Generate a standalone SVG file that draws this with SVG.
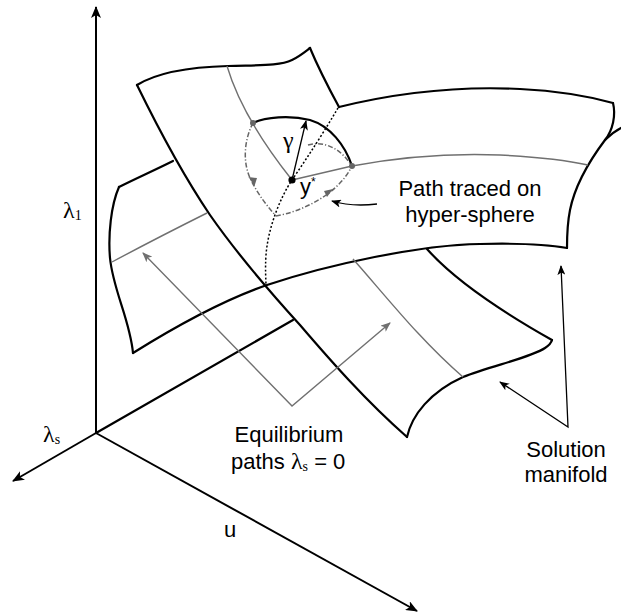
<svg xmlns="http://www.w3.org/2000/svg" width="621" height="614" viewBox="0 0 621 614">
<style>
.edge{fill:none;stroke:#000;stroke-width:2.2;stroke-linejoin:round;stroke-linecap:round}
.axis{fill:none;stroke:#000;stroke-width:2}
.grid{fill:none;stroke:#707070;stroke-width:1.4}
.garrow{fill:none;stroke:#707070;stroke-width:1.4}
.barrow{fill:none;stroke:#000;stroke-width:1.3}
.dotted{fill:none;stroke:#000;stroke-width:1.5;stroke-dasharray:2,2}
.dashdot{fill:none;stroke:#666;stroke-width:1.5;stroke-dasharray:5,2,1.2,2}
.sans{font-family:"Liberation Sans",Arial,sans-serif;font-size:22px;fill:#000}
.serif{font-family:"Liberation Serif","Times New Roman",serif;fill:#000}
</style>
<defs>
<marker id="ax" viewBox="0 0 12 10" refX="11" refY="5" markerWidth="12" markerHeight="10" markerUnits="userSpaceOnUse" orient="auto">
<path d="M0,0 L12,5 L0,10 L3,5 z" fill="#000"/>
</marker>
<marker id="ga" viewBox="0 0 10 8" refX="9" refY="4" markerWidth="10" markerHeight="8" markerUnits="userSpaceOnUse" orient="auto-start-reverse">
<path d="M0,0 L10,4 L0,8 L2.5,4 z" fill="#707070"/>
</marker>
<marker id="ba" viewBox="0 0 10 8" refX="9" refY="4" markerWidth="10" markerHeight="8" markerUnits="userSpaceOnUse" orient="auto-start-reverse">
<path d="M0,0 L10,4 L0,8 L2.5,4 z" fill="#000"/>
</marker>
</defs>
<rect width="621" height="614" fill="#fff"/>

<g id="axes">
<line class="axis" x1="96" y1="433" x2="96" y2="7" marker-end="url(#ax)"/>
<line class="axis" x1="96" y1="433" x2="13" y2="481" marker-end="url(#ax)"/>
<line class="axis" x1="96" y1="433" x2="417" y2="611" marker-end="url(#ax)"/>
<line class="edge" x1="96" y1="433" x2="293" y2="320"/>
</g>

<g id="sheetB">
<path class="edge" d="M119,187 C137,178 155,170 173,161"/>
<path class="edge" d="M119,187 C111,205 108,235 110,258 C113,290 130,320 133,353"/>
<path class="edge" d="M133,353 C165,333 215,303 267,285 C330,264 420,245 480,244 C520,243 550,245 567,248"/>
<path class="edge" d="M339,107 C400,92 460,86 520,89 C560,91 595,98 613,103"/>
<path class="edge" d="M613,103 C616,115 613,130 605,140 C590,160 575,185 570,210 C567,225 567,240 567,248"/>
<path class="edge" d="M605,140 C610,135 615,131 621,128"/>
<path class="grid" d="M112,262 C140,247 175,229 207,213"/>
<path class="grid" d="M292,180 L352,166 C400,157 450,153 500,155 C540,157 570,161 588,165"/>
</g>

<g id="sheetA">
<path class="edge" d="M137,85 C158,72 190,67 228,66 C260,65 280,66 292,60 C300,56 306,51 310,48"/>
<path class="edge" d="M310,48 Q320,72 339,107"/>
<path class="edge" d="M137,85 C160,132 185,178 210,215 C240,258 270,292 300,325 C330,360 365,400 407,437"/>
<path class="edge" d="M407,437 C412,415 430,392 463,377 C490,366 530,358 545,348 Q551,344 552,340"/>
<path class="edge" d="M427,249 C450,275 490,305 552,340"/>
<path class="grid" d="M227,66 Q242,117 292,180"/>
<path class="grid" d="M353,259 C385,295 420,340 463,377"/>
</g>

<g id="intersection">
<path class="dotted" d="M338,108 Q318,142 292,180 C280,198 268,228 266,255 C265,270 266,280 266,286"/>
</g>

<g id="hypersphere">
<path class="edge" d="M253,123 C265,117 290,115 310,120 C330,126 345,145 352,166"/>
<path class="dashdot" d="M253,123 C245,138 242,160 250,178 C258,195 268,207 276,216"/>
<path class="dashdot" d="M276,216 C300,212 338,195 352,166"/>
<path class="dashdot" d="M308,145 C325,140 342,150 351,165"/>
<path d="M248.5,177 L257,178 L254.5,186 z" fill="#666"/>
<path d="M324,191 L333,189 L327,197 z" fill="#666"/>
<circle cx="253" cy="123" r="3" fill="#666"/>
<circle cx="352" cy="166" r="3" fill="#666"/>
<line class="barrow" x1="292" y1="180" x2="306" y2="121" stroke-width="1.6" marker-end="url(#ba)"/>
<circle cx="292" cy="180" r="3.6" fill="#000"/>
</g>

<g id="connectors">
<path class="garrow" d="M143,253 L292,406 L390,323" marker-start="url(#ga)" marker-end="url(#ga)"/>
<path class="barrow" d="M561,266 L568,427 L500,382" marker-start="url(#ba)" marker-end="url(#ba)"/>
<path class="barrow" d="M377,204 C360,206 345,205 332,201" marker-end="url(#ba)"/>
</g>

<g id="labels">
<text class="serif" x="63" y="218" font-size="24">λ<tspan font-size="14" dy="2">1</tspan></text>
<text class="serif" x="43" y="442" font-size="24">λ<tspan font-size="14" dy="2">s</tspan></text>
<text class="sans" x="224" y="537">u</text>
<text class="serif" x="283" y="148" font-size="24">γ</text>
<text class="sans" x="300" y="194">y<tspan font-size="12" dy="-8">*</tspan></text>
<text class="sans" x="470" y="196" text-anchor="middle">Path traced on</text>
<text class="sans" x="470" y="222" text-anchor="middle">hyper-sphere</text>
<text class="sans" x="289" y="442" text-anchor="middle">Equilibrium</text>
<text class="sans" x="231" y="469">paths <tspan class="serif" font-size="24">λ</tspan><tspan class="serif" font-size="14" dy="2">s</tspan><tspan dy="-2"> = 0</tspan></text>
<text class="sans" x="566" y="457" text-anchor="middle">Solution</text>
<text class="sans" x="566" y="482" text-anchor="middle">manifold</text>
</g>
</svg>
